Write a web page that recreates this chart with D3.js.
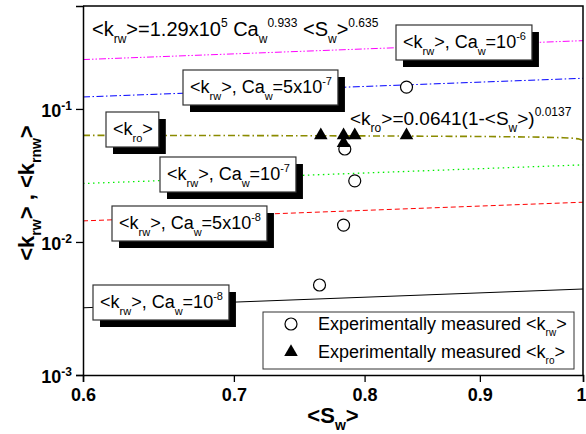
<!DOCTYPE html>
<html>
<head>
<meta charset="utf-8">
<script src="https://cdn.jsdelivr.net/npm/d3@7"></script>
<style>
  body { margin: 0; background: #fff; }
  svg { display: block; font-family: Arial, "Liberation Sans", sans-serif; }
  text { white-space: pre; }
</style>
</head>
<body>
<svg id="chart" width="586" height="434"></svg>
<script>
// model lines <k_rw> = 1.29x10^5 Ca^0.933 <S_w>^0.635, values read at the two ends
var swEnds = [0.6, 1.0],
    krwCa1e6 = [0.235, 0.326],
    krwCa5e7 = [0.123, 0.170],
    krwCa1e7 = [0.0275, 0.0380],
    krwCa5e8 = [0.0144, 0.0199],
    krwCa1e8 = [0.00320, 0.00443];

// <k_ro> = 0.0641(1-<S_w>)^0.0137
var swRo = [0.6, 0.7, 0.8, 0.9, 0.95, 0.98, 0.99, 0.995, 0.999],
    kroModel = [0.0633, 0.0631, 0.0627, 0.0621, 0.0615, 0.0608, 0.0602, 0.0596, 0.0583];

// measured points
var swKrw = [0.835, 0.784, 0.792, 0.783, 0.764],
    krwMeas = [0.146, 0.050, 0.0288, 0.0134, 0.00475],
    swKro = [0.765, 0.783, 0.792, 0.835, 0.783],
    kroMeas = [0.0632, 0.0632, 0.0632, 0.0632, 0.0555];

var xTicks = [0.6, 0.7, 0.8, 0.9, 1.0],
    yTicks = [1e-3, 1e-2, 1e-1],
    yTickExp = ["-3", "-2", "-1"];

var svg = d3.select("#chart"),
    pl = 83, pr = 583, pt = 6, pb = 375;

var x = d3.scaleLog().domain([0.6, 1]).range([pl, pr]),
    y = d3.scaleLog().domain([1e-3, 0.594]).range([pb, pt]);

// write text with sub/superscripts: parts = [[string, "n"|"b"|"p"], ...]
function rich(t, parts, size, subSize, dSub, dSup) {
    let shift = 0;
    parts.forEach(function (p) {
        let fs = p[1] == "n" ? size : subSize,
            target = p[1] == "b" ? dSub : (p[1] == "p" ? -dSup : 0);
        t.append("tspan").attr("font-size", fs).attr("dy", target - shift).text(p[0]);
        shift = target;
    })
    return t
}

var lineGen = d3.line().x(d => x(d[0])).y(d => y(d[1]));

var models = [
    {v: krwCa1e6, color: "#ff00ff", dash: "7,2,1.5,2,1.5,2", w: 1},
    {v: krwCa5e7, color: "#0000ff", dash: "7,2.5,1.5,2.5", w: 1},
    {v: krwCa1e7, color: "#00ee00", dash: "1.5,3.5", w: 1.3},
    {v: krwCa5e8, color: "#ff0000", dash: "5,3", w: 1},
    {v: krwCa1e8, color: "#000000", dash: null, w: 1}
];

var gLines = svg.append("g");
models.forEach(function (m) {
    gLines.append("path")
        .datum(swEnds.map((s, i) => [s, m.v[i]]))
        .attr("d", lineGen)
        .attr("fill", "none")
        .attr("stroke", m.color)
        .attr("stroke-width", m.w)
        .attr("stroke-dasharray", m.dash);
})
gLines.append("path")
    .datum(swRo.map((s, i) => [s, kroModel[i]]))
    .attr("d", lineGen)
    .attr("fill", "none")
    .attr("stroke", "#8b8b00")
    .attr("stroke-width", 1.6)
    .attr("stroke-dasharray", "7,3,1.5,3");

// boxed labels with drop shadow
var boxes = [
    {x: 396, y: 25, parts: [["<k", "n"], ["rw", "b"], [">, Ca", "n"], ["w", "b"], ["=10", "n"], ["-6", "p"]]},
    {x: 183, y: 70, parts: [["<k", "n"], ["rw", "b"], [">, Ca", "n"], ["w", "b"], ["=5x10", "n"], ["-7", "p"]]},
    {x: 106, y: 112, parts: [["<k", "n"], ["ro", "b"], [">", "n"]]},
    {x: 160, y: 157, parts: [["<k", "n"], ["rw", "b"], [">, Ca", "n"], ["w", "b"], ["=10", "n"], ["-7", "p"]]},
    {x: 112, y: 206, parts: [["<k", "n"], ["rw", "b"], [">, Ca", "n"], ["w", "b"], ["=5x10", "n"], ["-8", "p"]]},
    {x: 93, y: 285, parts: [["<k", "n"], ["rw", "b"], [">, Ca", "n"], ["w", "b"], ["=10", "n"], ["-8", "p"]]}
];

boxes.forEach(function (b) {
    let g = svg.append("g");
    let shadow = g.append("rect").attr("fill", "#000");
    let box = g.append("rect").attr("fill", "#fff").attr("stroke", "#333").attr("stroke-width", 1.2);
    let t = rich(g.append("text").attr("x", b.x + 7).attr("y", b.y + 23), b.parts, 18, 11, 7, 8);
    let w = t.node().getComputedTextLength() + 13, h = 35;
    box.attr("x", b.x).attr("y", b.y).attr("width", w).attr("height", h);
    shadow.attr("x", b.x + 7).attr("y", b.y + 7).attr("width", w).attr("height", h);
})

// formulas
rich(svg.append("text").attr("x", 92).attr("y", 36),
    [["<k", "n"], ["rw", "b"], [">=1.29x10", "n"], ["5", "p"], [" Ca", "n"], ["w", "b"],
     ["0.933", "p"], [" <S", "n"], ["w", "b"], [">", "n"], ["0.635", "p"]], 20, 12, 7, 9);
rich(svg.append("text").attr("x", 350).attr("y", 125),
    [["<k", "n"], ["ro", "b"], [">=0.0641(1-<S", "n"], ["w", "b"], [">)", "n"], ["0.0137", "p"]], 19, 12, 7, 9);

// measured points
svg.append("g").selectAll("circle")
    .data(swKrw.map((s, i) => [s, krwMeas[i]]))
    .join("circle")
    .attr("cx", d => x(d[0]))
    .attr("cy", d => y(d[1]))
    .attr("r", 6)
    .attr("fill", "#fff")
    .attr("stroke", "#000")
    .attr("stroke-width", 1.2);

var tri = d3.symbol().type(d3.symbolTriangle).size(80);
svg.append("g").selectAll("path")
    .data(swKro.map((s, i) => [s, kroMeas[i]]))
    .join("path")
    .attr("d", tri)
    .attr("transform", d => "translate(" + x(d[0]) + "," + y(d[1]) + ")")
    .attr("fill", "#000");

// legend
var leg = svg.append("g");
leg.append("rect").attr("x", 263).attr("y", 312).attr("width", 311).attr("height", 57)
    .attr("fill", "#fff").attr("stroke", "#333").attr("stroke-width", 1);
leg.append("circle").attr("cx", 291).attr("cy", 324).attr("r", 6)
    .attr("fill", "#fff").attr("stroke", "#000").attr("stroke-width", 1.2);
leg.append("path").attr("d", tri).attr("transform", "translate(291,352)").attr("fill", "#000");
rich(leg.append("text").attr("x", 318).attr("y", 330),
    [["Experimentally measured <k", "n"], ["rw", "b"], [">", "n"]], 18, 10, 6, 8);
rich(leg.append("text").attr("x", 318).attr("y", 358),
    [["Experimentally measured <k", "n"], ["ro", "b"], [">", "n"]], 18, 10, 6, 8);

// axes
var minorX = d3.range(61, 100).map(d => d / 100).filter(d => Math.round(d * 100) % 10 != 0);
var minorY = [];
yTicks.forEach(function (d) {
    d3.range(2, 10).forEach(function (k) { if (d * k <= 0.594) minorY.push(d * k) })
})

var gx = svg.append("g").attr("transform", "translate(0," + pb + ")");
gx.call(d3.axisBottom(x).tickValues(minorX).tickSize(3).tickFormat(""));
gx.call(d3.axisBottom(x).tickValues(xTicks).tickSize(7).tickFormat(d3.format(".1f")).tickPadding(6));
gx.selectAll("text").attr("font-size", 18).attr("font-weight", "bold").attr("fill", "#000")
    .attr("font-family", "Arial, 'Liberation Sans', sans-serif")
    .text(d => d == 1 ? "1" : d3.format(".1f")(d));
gx.selectAll(".tick").filter(d => d == 1).select("text").attr("text-anchor", "end").attr("dx", 3);

var gy = svg.append("g").attr("transform", "translate(" + pl + ",0)");
gy.call(d3.axisLeft(y).tickValues(minorY).tickSize(4).tickFormat(""));
gy.call(d3.axisLeft(y).tickValues(yTicks).tickSize(7).tickFormat(""));

yTicks.forEach(function (d, i) {
    rich(svg.append("text").attr("x", 72).attr("y", y(d) + 8).attr("text-anchor", "end")
        .attr("font-weight", "bold"), [["10", "n"], [yTickExp[i], "p"]], 18, 12, 6, 7);
})

svg.selectAll(".domain").attr("stroke", "#000").attr("stroke-width", 1.5);
svg.selectAll(".tick line").attr("stroke", "#000").attr("stroke-width", 1.3);

// frame top and right
svg.append("path")
    .attr("d", "M" + pl + "," + pt + "H" + pr + "V" + pb)
    .attr("fill", "none").attr("stroke", "#000").attr("stroke-width", 1.5);

// axis titles
rich(svg.append("text").attr("x", 333).attr("y", 423).attr("text-anchor", "middle")
    .attr("font-weight", "bold"), [["<S", "n"], ["w", "b"], [">", "n"]], 22, 14, 7, 8);
rich(svg.append("text").attr("transform", "translate(34,193) rotate(-90)").attr("text-anchor", "middle")
    .attr("font-weight", "bold"),
    [["<k", "n"], ["rw", "b"], ["> , <k", "n"], ["rnw", "b"], [">", "n"]], 22, 14, 7, 8);
</script>
</body>
</html>
